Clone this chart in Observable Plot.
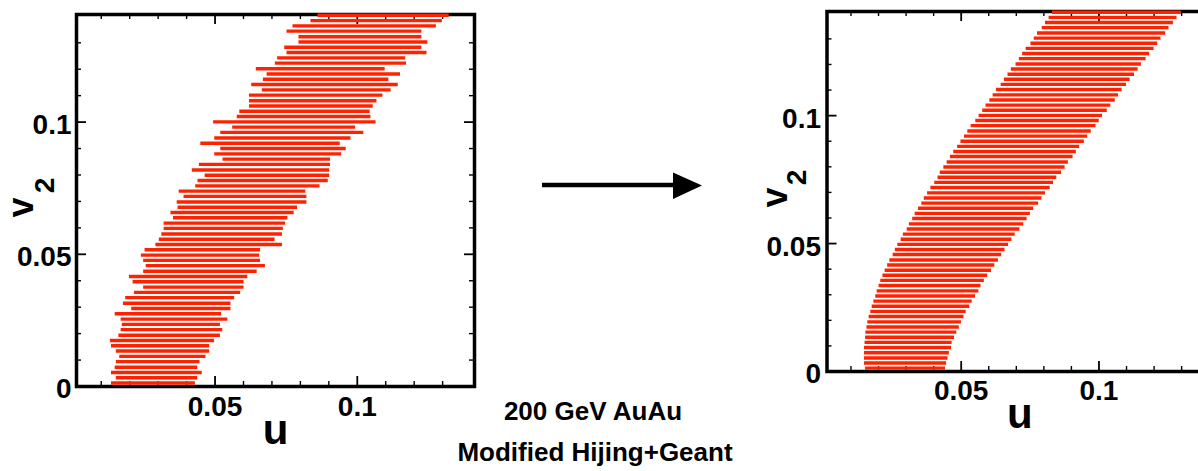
<!DOCTYPE html>
<html><head><meta charset="utf-8">
<script src="https://cdn.jsdelivr.net/npm/d3@7"></script>
<script src="https://cdn.jsdelivr.net/npm/@observablehq/plot@0.6"></script>
<style>
html,body{margin:0;padding:0;background:#fff;overflow:hidden;width:1198px;height:471px}
#wrap{position:relative;width:1198px;height:471px;overflow:hidden;color:#000;font-family:"Liberation Sans",Arial,Helvetica,sans-serif}
.panel{position:absolute;top:0;width:480px;height:471px}
.panel svg{max-width:none !important;display:block}
#deco{position:absolute;left:0;top:0}
</style></head><body><div id="wrap">
<div id="left" class="panel" style="left:0px"></div>
<div id="right" class="panel" style="left:740px"></div>
<svg id="deco" width="1198" height="471"></svg>
</div>
<script>
// v2 bin centres (shared by both panels)
const v2Bins = [
0.0013,0.0033,0.0053,0.0073,0.0094,0.0114,0.0134,0.0154,0.0174,0.0194,
0.0215,0.0235,0.0255,0.0275,0.0295,0.0315,0.0336,0.0356,0.0376,0.0396,
0.0416,0.0436,0.0457,0.0477,0.0497,0.0517,0.0537,0.0557,0.0577,0.0598,
0.0618,0.0638,0.0658,0.0678,0.0698,0.0719,0.0739,0.0759,0.0779,0.0799,
0.0819,0.0840,0.0860,0.0880,0.0900,0.0920,0.0940,0.0961,0.0981,0.1001,
0.1021,0.1041,0.1061,0.1081,0.1102,0.1122,0.1142,0.1162,0.1182,0.1202,
0.1223,0.1243,0.1263,0.1283,0.1303,0.1323,0.1344,0.1364,0.1384,0.1404];

// left panel: u range per v2 bin (Modified Hijing+Geant)
const measuredLo = [
0.0136,0.0153,0.0136,0.0149,0.0153,0.0165,0.0153,0.0136,0.0132,0.0162,
0.0170,0.0174,0.0170,0.0149,0.0207,0.0178,0.0186,0.0217,0.0249,0.0212,
0.0199,0.0249,0.0258,0.0249,0.0241,0.0254,0.0292,0.0304,0.0313,0.0321,
0.0321,0.0354,0.0345,0.0370,0.0367,0.0391,0.0374,0.0432,0.0440,0.0465,
0.0420,0.0445,0.0528,0.0499,0.0520,0.0450,0.0499,0.0520,0.0562,0.0495,
0.0578,0.0587,0.0621,0.0621,0.0621,0.0666,0.0629,0.0670,0.0683,0.0645,
0.0712,0.0720,0.0753,0.0745,0.0795,0.0795,0.0753,0.0774,0.0837,0.0862];
const measuredHi = [
0.0431,0.0439,0.0455,0.0439,0.0447,0.0468,0.0481,0.0481,0.0498,0.0519,
0.0527,0.0519,0.0545,0.0523,0.0556,0.0556,0.0569,0.0590,0.0602,0.0602,
0.0615,0.0648,0.0677,0.0660,0.0657,0.0660,0.0737,0.0711,0.0737,0.0740,
0.0748,0.0756,0.0778,0.0790,0.0823,0.0823,0.0819,0.0869,0.0898,0.0903,
0.0903,0.0906,0.0906,0.0945,0.0961,0.0940,0.0978,0.1023,0.0994,0.1066,
0.1048,0.1045,0.1056,0.1069,0.1090,0.1119,0.1144,0.1111,0.1152,0.1098,
0.1173,0.1170,0.1245,0.1227,0.1248,0.1227,0.1227,0.1278,0.1299,0.1323];

// right panel: smoothed u range per v2 bin
const smoothLo = [
0.0153,0.0149,0.0149,0.0149,0.0149,0.0151,0.0153,0.0154,0.0158,0.0161,
0.0166,0.0172,0.0177,0.0183,0.0190,0.0195,0.0202,0.0208,0.0216,0.0224,
0.0233,0.0241,0.0253,0.0261,0.0270,0.0282,0.0290,0.0304,0.0312,0.0324,
0.0333,0.0345,0.0357,0.0366,0.0378,0.0390,0.0404,0.0416,0.0424,0.0437,
0.0449,0.0461,0.0473,0.0487,0.0499,0.0512,0.0524,0.0536,0.0553,0.0565,
0.0578,0.0590,0.0604,0.0616,0.0628,0.0645,0.0657,0.0670,0.0682,0.0699,
0.0711,0.0723,0.0736,0.0753,0.0765,0.0777,0.0794,0.0806,0.0819,0.0831];
const smoothHi = [
0.0443,0.0447,0.0452,0.0457,0.0465,0.0467,0.0476,0.0484,0.0493,0.0501,
0.0510,0.0518,0.0531,0.0540,0.0552,0.0564,0.0572,0.0584,0.0596,0.0610,
0.0622,0.0635,0.0647,0.0659,0.0672,0.0684,0.0696,0.0713,0.0727,0.0739,
0.0751,0.0763,0.0781,0.0793,0.0806,0.0823,0.0835,0.0847,0.0864,0.0877,
0.0889,0.0906,0.0918,0.0930,0.0947,0.0959,0.0972,0.0989,0.1001,0.1013,
0.1030,0.1043,0.1059,0.1071,0.1084,0.1100,0.1113,0.1129,0.1142,0.1154,
0.1171,0.1184,0.1200,0.1213,0.1225,0.1242,0.1254,0.1270,0.1283,0.1299];

const uMajor = [0.05, 0.1];
const uMajorLabels = ["0.05", "0.1"];
const uMinor = [0.01,0.02,0.03,0.04,0.06,0.07,0.08,0.09,0.11,0.12,0.13];
const vMajor = [0, 0.05, 0.1];
const vMajorLabels = ["0", "0.05", "0.1"];
const vMinor = [0.01,0.02,0.03,0.04,0.06,0.07,0.08,0.09,0.11,0.12,0.13];
const xTitle = "u";
const yTitle = "v";
const yTitleSub = "2";
const captions = ["200 GeV AuAu", "Modified Hijing+Geant"];

const uDomain = [0.0013, 0.1412];
const vDomain = [0, 0.1407];
const barColor = "#ff2200";
const font = "Liberation Sans, Arial, Helvetica, sans-serif";

function panel(lo, hi, cfg) {
  const rows = v2Bins.map((v, i) => ({v, lo: lo[i], hi: hi[i]}));
  const plotW = cfg.width - cfg.ml - cfg.mr;
  const plotH = cfg.height - cfg.mt - cfg.mb;
  const majLen = 10, minLen = 5;
  return Plot.plot({
    width: cfg.width, height: cfg.height,
    marginLeft: cfg.ml, marginRight: cfg.mr, marginTop: cfg.mt, marginBottom: cfg.mb,
    x: {domain: uDomain, label: null},
    y: {domain: vDomain, label: null},
    style: {fontFamily: font, background: "transparent", overflow: "visible", color: "black", maxWidth: "none"},
    marks: [
      Plot.frame({stroke: "black", strokeWidth: 3.5}),
      // inward ticks on all four sides
      Plot.ruleX(uMinor, {x: d => d, insetTop: plotH - minLen, stroke: "black", strokeWidth: 1.4}),
      Plot.ruleX(uMinor, {x: d => d, insetBottom: plotH - minLen, stroke: "black", strokeWidth: 1.4}),
      Plot.ruleX(uMajor, {x: d => d, insetTop: plotH - majLen, stroke: "black", strokeWidth: 1.8}),
      Plot.ruleX(uMajor, {x: d => d, insetBottom: plotH - majLen, stroke: "black", strokeWidth: 1.8}),
      Plot.ruleY(vMinor, {y: d => d, insetRight: plotW - minLen, stroke: "black", strokeWidth: 1.4}),
      Plot.ruleY(vMinor, {y: d => d, insetLeft: plotW - minLen, stroke: "black", strokeWidth: 1.4}),
      Plot.ruleY(vMajor.filter(d => d > 0), {y: d => d, insetRight: plotW - majLen, stroke: "black", strokeWidth: 1.8}),
      Plot.ruleY(vMajor.filter(d => d > 0), {y: d => d, insetLeft: plotW - majLen, stroke: "black", strokeWidth: 1.8}),
      // bars
      Plot.ruleY(rows, {y: "v", x1: "lo", x2: "hi", stroke: barColor, strokeWidth: 3.4}),
      // tick labels
      Plot.axisX(uMajor, {anchor: "bottom", tickSize: 0, tickPadding: cfg.xPad, label: null,
        tickFormat: d => uMajorLabels[uMajor.indexOf(d)], fontSize: 28, fontWeight: "bold"}),
      Plot.axisY(vMajor, {anchor: "left", tickSize: 0, tickPadding: cfg.yPad, dy: cfg.yDy, label: null,
        tickFormat: d => vMajorLabels[vMajor.indexOf(d)], fontSize: 28, fontWeight: "bold"}),
      // axis titles
      Plot.text([xTitle], {text: d => d, frameAnchor: "bottom", dy: cfg.uDy, lineAnchor: "bottom",
        fontSize: 42, fontWeight: "bold", fill: "black"}),
      Plot.text([yTitle], {text: d => d, frameAnchor: "left", rotate: -90, textAnchor: "middle",
        lineAnchor: "bottom", dx: cfg.vDx, dy: cfg.vDy, fontSize: 36, fontWeight: "bold", fill: "black"}),
      Plot.text([yTitleSub], {text: d => d, frameAnchor: "left", rotate: -90, textAnchor: "middle",
        lineAnchor: "bottom", dx: cfg.sDx, dy: cfg.sDy, fontSize: 28, fontWeight: "bold", fill: "black"})
    ]
  });
}

document.getElementById("left").append(panel(measuredLo, measuredHi, {
  width: 480, height: 471, ml: 76, mr: 6, mt: 14, mb: 85,
  xPad: 10, yPad: 5, yDy: 3, uDy: 57, vDx: -44, vDy: 7, sDx: -23, sDy: -15
}));
document.getElementById("right").append(panel(smoothLo, smoothHi, {
  width: 480, height: 471, ml: 86.5, mr: 8, mt: 11, mb: 100,
  xPad: 9, yPad: 6, yDy: 3, uDy: 56, vDx: -40, vDy: 6, sDx: -21, sDy: -14
}));

// arrow and captions
const deco = d3.select("#deco");
deco.append("line").attr("x1", 542).attr("x2", 676).attr("y1", 185).attr("y2", 185)
  .attr("stroke", "black").attr("stroke-width", 4.5);
deco.append("polygon").attr("points", "673,172.5 702,185.5 673,199").attr("fill", "black");
deco.selectAll("text.cap").data(captions).join("text").attr("class", "cap")
  .attr("x", (d, i) => i === 0 ? 593 : 595)
  .attr("y", (d, i) => i === 0 ? 420 : 461)
  .attr("text-anchor", "middle")
  .attr("font-family", font).attr("font-weight", "bold").attr("font-size", 26)
  .attr("fill", "black")
  .text(d => d);
</script>
</body></html>
